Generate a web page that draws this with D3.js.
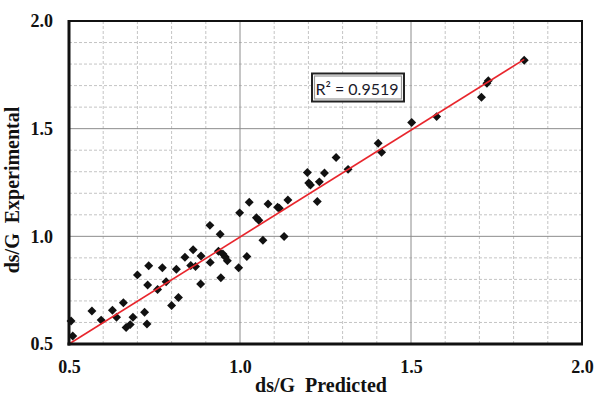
<!DOCTYPE html>
<html>
<head>
<meta charset="utf-8">
<script src="https://cdn.jsdelivr.net/npm/d3@7"></script>
<style>
html,body{margin:0;padding:0;background:#fff;}
svg{display:block;}
</style>
</head>
<body>
<svg id="chart" width="595" height="396"></svg>
<script>
// ---- data ----
const predicted = [0.506,0.511,0.567,0.594,0.627,0.639,0.659,0.667,0.679,0.687,0.721,0.728,0.700,0.733,0.730,0.773,0.759,0.784,0.814,0.800,0.820,0.839,0.863,0.856,0.870,0.886,0.885,0.913,0.937,0.950,0.957,0.963,0.944,0.996,1.020,0.912,0.942,0.999,1.027,1.048,1.055,1.067,1.082,1.110,1.115,1.140,1.129,1.197,1.201,1.206,1.232,1.247,1.226,1.281,1.316,1.404,1.414,1.502,1.575,1.706,1.726,1.722,1.831];
const experimental = [0.607,0.537,0.653,0.611,0.657,0.624,0.692,0.577,0.590,0.624,0.647,0.593,0.821,0.863,0.774,0.854,0.753,0.789,0.847,0.679,0.716,0.903,0.938,0.865,0.860,0.909,0.779,0.879,0.931,0.918,0.904,0.887,0.808,0.854,0.906,1.051,1.010,1.109,1.158,1.086,1.075,0.982,1.150,1.135,1.130,1.169,0.999,1.296,1.248,1.238,1.253,1.294,1.162,1.366,1.311,1.432,1.390,1.529,1.556,1.646,1.723,1.711,1.818];
const trendX = [0.5, 1.831];
const trendY = [0.5, 1.822];
const xTicks = [0.5, 1.0, 1.5, 2.0];
const yTicks = [0.5, 1.0, 1.5, 2.0];
const r2Label = "R² = 0.9519";
const xTitle = "ds/G  Predicted";
const yTitle = "ds/G  Experimental";

// ---- layout ----
const L = 69, R = 582, T = 21, B = 344;
const svg = d3.select("#chart");
const x = d3.scaleLinear().domain([0.5, 2.0]).range([L, R]);
const y = d3.scaleLinear().domain([0.5, 2.0]).range([B, T]);

svg.append("rect").attr("width",595).attr("height",396).attr("fill","#fff");

// minor grid
const minor = d3.range(6, 20).map(v => v/10).filter(v => Math.abs(v*2 - Math.round(v*2)) > 1e-6);
const g = svg.append("g");
g.selectAll(".vx").data(minor).join("line")
  .attr("x1", d => x(d)).attr("x2", d => x(d)).attr("y1", T).attr("y2", B)
  .attr("stroke", "#c4c4c4").attr("stroke-width", 1).attr("stroke-dasharray", "3,2");
g.selectAll(".hy").data(minor).join("line")
  .attr("y1", d => y(d)).attr("y2", d => y(d)).attr("x1", L).attr("x2", R)
  .attr("stroke", "#c4c4c4").attr("stroke-width", 1).attr("stroke-dasharray", "3,2");
// major grid
const major = [1.0, 1.5];
g.selectAll(".mx").data(major).join("line")
  .attr("x1", d => x(d)).attr("x2", d => x(d)).attr("y1", T).attr("y2", B)
  .attr("stroke", "#8c8c8c").attr("stroke-width", 1);
g.selectAll(".my").data(major).join("line")
  .attr("y1", d => y(d)).attr("y2", d => y(d)).attr("x1", L).attr("x2", R)
  .attr("stroke", "#8c8c8c").attr("stroke-width", 1);

// points (rotated squares = diamonds)
const sym = d3.symbol().type(d3.symbolSquare).size(40);
svg.append("g").selectAll("path").data(predicted.map((p,i)=>[p, experimental[i]])).join("path")
  .attr("d", sym)
  .attr("transform", d => `translate(${x(d[0])},${y(d[1])}) rotate(45)`)
  .attr("fill", "#111");

// trend line
svg.append("path")
  .datum(trendX.map((v,i)=>[v, trendY[i]]))
  .attr("d", d3.line().x(d => x(d[0])).y(d => y(d[1])))
  .attr("stroke", "#e8262d").attr("stroke-width", 1.6).attr("fill", "none");

// frame
svg.append("rect").attr("x", L).attr("y", T).attr("width", R-L).attr("height", B-T)
  .attr("fill","none").attr("stroke","#111").attr("stroke-width",2);
svg.append("line").attr("x1",L).attr("x2",L).attr("y1",T-1).attr("y2",B+1.5).attr("stroke","#111").attr("stroke-width",3);
svg.append("line").attr("x1",L-1.5).attr("x2",R+1).attr("y1",B).attr("y2",B).attr("stroke","#111").attr("stroke-width",3);

// axes
const fontTick = "'Liberation Serif','Times New Roman',serif";
const xAxis = svg.append("g").attr("transform", `translate(0,${B})`)
  .call(d3.axisBottom(x).tickValues(xTicks).tickFormat(d3.format(".1f")).tickSize(0).tickPadding(16));
const yAxis = svg.append("g").attr("transform", `translate(${L},0)`)
  .call(d3.axisLeft(y).tickValues(yTicks).tickFormat(d3.format(".1f")).tickSize(0).tickPadding(16));
[xAxis, yAxis].forEach(a => {
  a.select(".domain").remove();
  a.selectAll("text").attr("font-family", fontTick).attr("font-weight", "bold")
    .attr("font-size", 18).attr("fill", "#111");
});

// titles
svg.append("text").attr("x", 321).attr("y", 392).attr("text-anchor","middle")
  .attr("font-family", fontTick).attr("font-weight","bold").attr("font-size", 20).attr("fill","#111")
  .attr("xml:space","preserve").style("white-space","pre").text(xTitle);
svg.append("text").attr("transform", "translate(19,190) rotate(-90)").attr("text-anchor","middle")
  .attr("font-family", fontTick).attr("font-weight","bold").attr("font-size", 20).attr("fill","#111")
  .style("white-space","pre").text(yTitle);

// R2 box
svg.append("rect").attr("x", 312).attr("y", 73.5).attr("width", 92).attr("height", 28)
  .attr("fill","#fff").attr("stroke","#222").attr("stroke-width",2);
svg.append("rect").attr("x", 314.5).attr("y", 76).attr("width", 87).attr("height", 23)
  .attr("fill","none").attr("stroke","#999").attr("stroke-width",1.2);
svg.append("text").attr("x", 357).attr("y", 95).attr("text-anchor","middle")
  .attr("font-family","Lato, 'Open Sans', sans-serif").attr("font-size", 16).attr("fill","#1a1a2a")
  .text(r2Label);
</script>
</body>
</html>
